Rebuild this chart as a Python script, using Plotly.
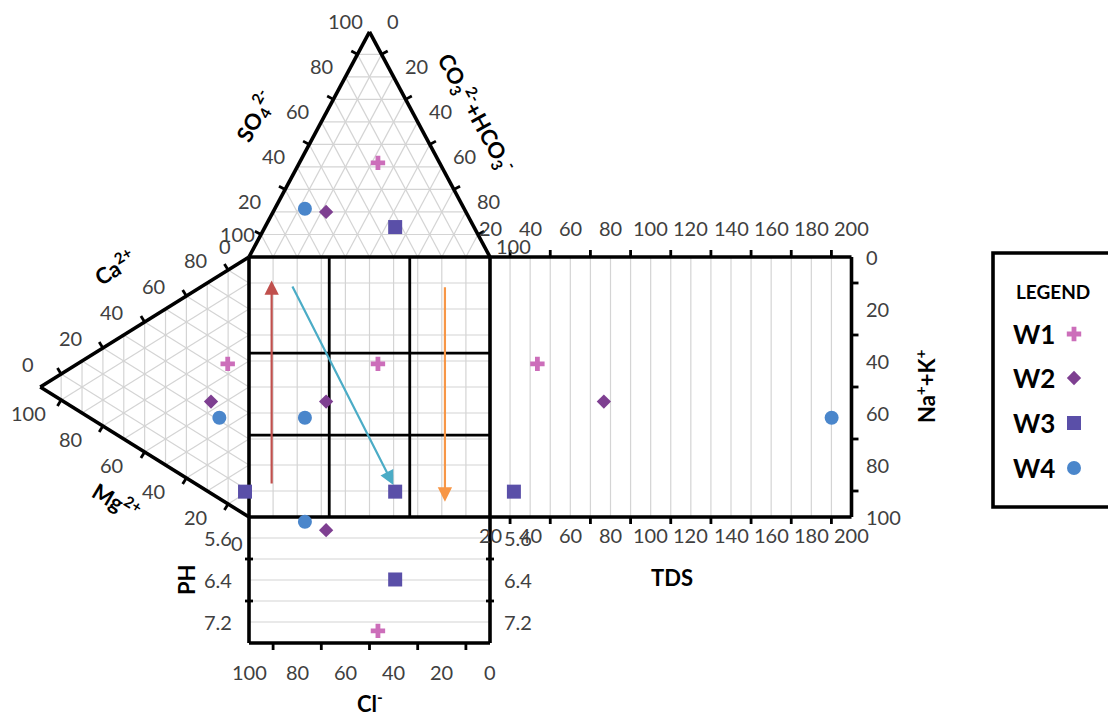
import math
import plotly.graph_objects as go

# ---------------- data ----------------
samples = ["W1", "W2", "W3", "W4"]
ca = [53.8, 35.3, 8.8, 31.1]          # % Ca2+
mg = [10.2, 18.2, 1.9, 14.2]          # % Mg2+
na_k = [36.0, 46.5, 89.3, 54.7]       # % Na+ + K+
so4 = [41.8, 20.0, 13.3, 21.4]        # % SO4 2-
hco3_co3 = [32.6, 22.0, 54.0, 12.5]   # % CO3 2- + HCO3-
cl = [25.6, 58.0, 32.7, 66.1]         # % Cl-
tds = [43.6, 76.7, 31.9, 190.1]
ph = [7.37, 5.45, 6.39, 5.29]

so4_ticks = [100, 80, 60, 40, 20, 0]
co3_ticks = [0, 20, 40, 60, 80, 100]
ca_ticks = [0, 20, 40, 60, 80, 100]
mg_ticks = [100, 80, 60, 40, 20, 0]
tds_ticks = [20, 40, 60, 80, 100, 120, 140, 160, 180, 200]
nak_ticks = [0, 20, 40, 60, 80, 100]
ph_ticks = [5.6, 6.4, 7.2]
ph_minor = [6.0, 6.8]
cl_ticks = [100, 80, 60, 40, 20, 0]

colors = ["#CC6EBA", "#7E3F91", "#5A4FA8", "#4A86CB"]
symbols = ["cross", "diamond", "square", "circle"]
sizes = [12, 11, 14, 14]

# ---------------- layout constants ----------------
W, H = 1108, 718
OX, OY = 249, 517          # pixel of square bottom-left corner
KX, KY = 2.41, 2.6         # pixels per unit
H3 = 86.6025
TDS_MIN, TDS_MAX, TDS_X1 = 20, 200, 250.0
PH_MIN, PH_MAX = 5.2, 7.6
PH_DEPTH = 126 / KY
GRID = "#D4D4D4"
TXT = "#404040"
FONT = "Lato"
TICK_SIZE = 20


def anion_xy(s, h):
    return 0.5 * s + h, 100 + H3 * s / 100


def cation_xy(c, m):
    return -H3 * m / 100, c + 0.5 * m


def tds_x(t):
    return 100 + (t - TDS_MIN) / (TDS_MAX - TDS_MIN) * (TDS_X1 - 100)


def ph_y(p):
    return -(p - PH_MIN) / (PH_MAX - PH_MIN) * PH_DEPTH


fig = go.Figure()


def add_segments(segs, color, width):
    xs, ys = [], []
    for (x0, y0), (x1, y1) in segs:
        xs += [x0, x1, None]
        ys += [y0, y1, None]
    fig.add_trace(go.Scatter(x=xs, y=ys, mode="lines", line=dict(color=color, width=width),
                             hoverinfo="skip", showlegend=False))


# ---------------- grids ----------------
g = []
for k in range(10, 100, 10):
    f = k / 100
    # top triangle
    g.append(((50 * f, 100 + H3 * f), (100 - 50 * f, 100 + H3 * f)))
    g.append(((100 * f, 100), (50 * (1 - f) + 100 * f, 100 + H3 * (1 - f))))
    g.append(((100 * (1 - f), 100), (50 * (1 - f), 100 + H3 * (1 - f))))
    # left triangle
    g.append(((-H3 * f, 50 * f), (-H3 * f, 100 * (1 - f) + 50 * f)))
    g.append(((0, 100 * f), (-H3 * (1 - f), 100 * f + 50 * (1 - f))))
    g.append(((-H3 * (1 - f), 50 * (1 - f)), (0, 100 * (1 - f))))
    # square
    g.append(((k, 0), (k, 100)))
    g.append(((0, k), (100, k)))
for t in range(30, 200, 10):
    g.append(((tds_x(t), 0), (tds_x(t), 100)))
for p in ph_ticks + ph_minor:
    g.append(((0, ph_y(p)), (100, ph_y(p))))
add_segments(g, GRID, 1.2)

# ---------------- square dividers ----------------
square_div_x = [33.3, 66.7]
square_div_y = [31.5, 63.0]
d = [((x, 0), (x, 100)) for x in square_div_x] + [((0, y), (100, y)) for y in square_div_y]
add_segments(d, "black", 2.8)

# ---------------- borders ----------------
A = (50, 100 + H3)
BL, BR = (0, 100), (100, 100)
L = (-H3, 50)
TR, BRt = (0, 100), (0, 0)
PHB = ph_y(PH_MAX)
b = [(BL, A), (A, BR), (TR, L), (L, BRt),
     ((0, 0), (100, 0)), ((100, 0), (100, 100)), ((100, 100), (0, 100)), ((0, 100), (0, 0)),
     ((100, 100), (TDS_X1, 100)), ((TDS_X1, 100), (TDS_X1, 0)), ((TDS_X1, 0), (100, 0)),
     ((0, 0), (0, PHB)), ((0, PHB), (100, PHB)), ((100, PHB), (100, 0))]
add_segments(b, "black", 3.6)

# ---------------- tick marks ----------------
TL = 7


def tick(P, n, l=TL):
    return (P, (P[0] + n[0] * l / KX, P[1] + n[1] * l / KY))


def edge_ticks(P0, P1, inside, ts):
    out = []
    dx, dy = (P1[0] - P0[0]) * KX, (P1[1] - P0[1]) * KY
    ln = math.hypot(dx, dy)
    n = (-dy / ln, dx / ln)
    for t in ts:
        P = (P0[0] + t * (P1[0] - P0[0]), P0[1] + t * (P1[1] - P0[1]))
        vi = ((inside[0] - P[0]) * KX, (inside[1] - P[1]) * KY)
        nn = n if n[0] * vi[0] + n[1] * vi[1] < 0 else (-n[0], -n[1])
        out.append(tick(P, nn))
    return out


odd = [0.1, 0.3, 0.5, 0.7, 0.9]
tk = []
tk += edge_ticks(BL, A, (50, 129), odd)
tk += edge_ticks(A, BR, (50, 129), odd)
tk += edge_ticks(L, TR, (-29, 50), odd)
tk += edge_ticks(L, BRt, (-29, 50), odd)
for t in range(30, 200, 20):
    tk.append(tick((tds_x(t), 100), (0, 1)))
    tk.append(tick((tds_x(t), 0), (0, -1)))
for v in range(10, 100, 20):
    tk.append(tick((TDS_X1, 100 - v), (1, 0)))
    tk.append(tick((100 - v, PHB), (0, -1)))
for p in ph_minor:
    for xe in (0, 100):
        tk.append(((xe - 4 / KX, ph_y(p)), (xe + 4 / KX, ph_y(p))))
add_segments(tk, "black", 2.8)

# ---------------- samples ----------------
for i, name in enumerate(samples):
    axp, ayp = anion_xy(so4[i], hco3_co3[i])
    cxp, cyp = cation_xy(ca[i], mg[i])
    xs = [axp, cxp, axp, tds_x(tds[i]), axp]
    ys = [ayp, cyp, cyp, cyp, ph_y(ph[i])]
    fig.add_trace(go.Scatter(x=xs, y=ys, mode="markers", name=name, showlegend=False,
                             marker=dict(symbol=symbols[i], color=colors[i], size=sizes[i],
                                         line=dict(width=0))))

# ---------------- arrows (square % coordinates: tail -> head) ----------------
arrow_tails = [(9.4, 12.3), (17.7, 89.2), (81.3, 88.9)]
arrow_heads = [(9.4, 91.0), (59.9, 12.3), (81.3, 5.9)]
arrow_colors = ["#C0504D", "#4BACC6", "#F79646"]
ann = []
for (tx, ty), (hx, hy), c in zip(arrow_tails, arrow_heads, arrow_colors):
    ann.append(dict(x=hx, y=hy, ax=tx, ay=ty, xref="x", yref="y", axref="x", ayref="y",
                    text="", showarrow=True, arrowhead=2, arrowsize=1.3, arrowwidth=2.2,
                    arrowcolor=c))


def lab(x, y, text, xs=0, ys=0, xanchor="center"):
    ann.append(dict(x=x, y=y, xref="x", yref="y", text=text, showarrow=False,
                    xshift=xs, yshift=ys, xanchor=xanchor, yanchor="middle",
                    font=dict(family=FONT, size=TICK_SIZE, color=TXT)))


# tick labels
for v in so4_ticks:
    x, y = anion_xy(v, 0)
    lab(x, y, str(v), -24, 11)
for v in co3_ticks:
    x, y = anion_xy(100 - v, v)
    lab(x, y, str(v), 23, 11)
for v in ca_ticks:
    x, y = cation_xy(v, 100 - v)
    lab(x, y, str(v), -12, 23)
for v in mg_ticks:
    x, y = cation_xy(0, v)
    lab(x, y, str(v), -12, -26)
for t in tds_ticks:
    lab(tds_x(t), 100, str(t), 0, 29)
    lab(tds_x(t), 0, str(t), 0, -18)
for v in nak_ticks:
    lab(TDS_X1, 100 - v, str(v), 12, 0, xanchor="left")
for p in ph_ticks:
    lab(0, ph_y(p), str(p), -15, 0, xanchor="right")
    lab(100, ph_y(p), str(p), 12, 0, xanchor="left")
for v in cl_ticks:
    lab(100 - v, PHB, str(v), 0, -29)


def pp(px, py):
    return px / W, 1 - py / H


# axis titles (pixel positions converted to paper)
titles = [
    ("<b>Na<sup>+</sup>+K<sup>+</sup></b>", (925, 386), -90),
    ("<b>TDS</b>", (672, 577), 0),
    ("<b>Cl<sup>-</sup></b>", (370, 702), 0),
    ("<b>PH</b>", (186, 580), -90),
    ("<b>Ca<sup>2+</sup></b>", (115, 267), -31),
    ("<b>Mg<sup>2+</sup></b>", (117, 500), 31),
    ("<b>SO<sub>4</sub><sup>2-</sup></b>", (255, 117), -61),
    ("<b>CO<sub>3</sub><sup>2-</sup>+HCO<sub>3</sub><sup>-</sup></b>", (476, 113), 61),
]
for text, (px, py), ang in titles:
    x, y = pp(px, py)
    ann.append(dict(x=x, y=y, xref="paper", yref="paper", text=text, showarrow=False,
                    textangle=ang, xanchor="center", yanchor="middle",
                    font=dict(family=FONT, size=22, color="black")))

# legend
LEG_BOX = (993, 253, 1130, 507)
x, y = pp(1053, 291)
ann.append(dict(x=x, y=y, xref="paper", yref="paper", text="<b>LEGEND</b>", showarrow=False,
                xanchor="center", yanchor="middle", font=dict(family=FONT, size=19, color="black")))
leg_y = [334, 378, 423, 468]
for i, name in enumerate(samples):
    x, y = pp(1011, leg_y[i])
    ann.append(dict(x=x, y=y, xref="paper", yref="paper", text="<b>%s</b>" % name,
                    showarrow=False, xanchor="left", yanchor="middle",
                    font=dict(family=FONT, size=26, color="black")))
    fig.add_trace(go.Scatter(x=[(1074 - OX) / KX], y=[(OY - leg_y[i]) / KY], mode="markers",
                             showlegend=False, hoverinfo="skip",
                             marker=dict(symbol=symbols[i], color=colors[i], size=sizes[i],
                                         line=dict(width=0))))

bx0, by0 = pp(LEG_BOX[0], LEG_BOX[3])
bx1, by1 = pp(LEG_BOX[2], LEG_BOX[1])
shapes = [dict(type="rect", xref="paper", yref="paper", x0=bx0, y0=by0, x1=bx1, y1=by1,
               line=dict(color="black", width=3.6))]

fig.update_layout(
    width=W, height=H, autosize=False,
    margin=dict(l=0, r=0, t=0, b=0, pad=0),
    paper_bgcolor="white", plot_bgcolor="white",
    xaxis=dict(range=[-OX / KX, (W - OX) / KX], visible=False, fixedrange=True),
    yaxis=dict(range=[-(H - OY) / KY, OY / KY], visible=False, fixedrange=True),
    annotations=ann, shapes=shapes, showlegend=False,
)

fig.write_html("out.html", config={"displayModeBar": False},
               post_script="document.body.style.margin='0';document.body.style.overflow='hidden';")
